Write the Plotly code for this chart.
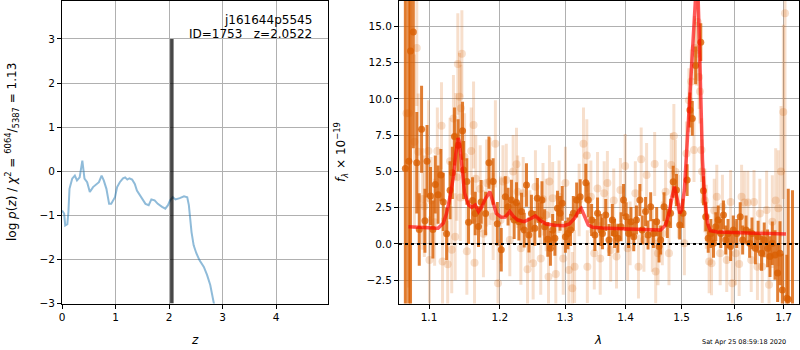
import plotly.graph_objects as go
import math

# ---------------- data ----------------
obj_name = "j161644p5545"
obj_id = 1753
z_best = 2.0522
chi2_num = 6064
chi2_den = 5387
chi2_red = 1.13
date_text = "Sat Apr 25 08:59:18 2020"

# p(z) curve
pz_z = [0.00, 0.04, 0.06, 0.10, 0.12, 0.14, 0.19, 0.24, 0.28, 0.33, 0.38, 0.42, 0.47, 0.52,
        0.58, 0.64, 0.69, 0.74, 0.78, 0.83, 0.88, 0.92, 0.99, 1.03, 1.08, 1.14, 1.18, 1.22,
        1.26, 1.31, 1.36, 1.40, 1.48, 1.56, 1.62, 1.67, 1.73, 1.79, 1.87, 1.93, 1.98, 2.02,
        2.07, 2.12, 2.20, 2.28, 2.34, 2.37, 2.42, 2.46, 2.51, 2.57, 2.65, 2.71, 2.77, 2.82,
        2.84, 2.90, 3.00, 4.97]
pz_logp = [-0.89, -0.96, -1.23, -1.20, -0.92, -0.40, -0.17, -0.10, -0.21, -0.14, 0.24, -0.17,
           -0.25, -0.47, -0.36, -0.29, -0.25, -0.10, -0.21, -0.40, -0.74, -0.74, -0.59, -0.36,
           -0.25, -0.16, -0.14, -0.19, -0.16, -0.19, -0.29, -0.44, -0.59, -0.74, -0.77, -0.64,
           -0.66, -0.74, -0.81, -0.85, -0.77, -0.66, -0.59, -0.64, -0.61, -0.57, -0.59, -0.77,
           -1.38, -1.68, -1.86, -2.02, -2.17, -2.35, -2.58, -2.88, -3.00, -3.40, -4.00, -8.00]
zline_y = [-3, 3]

# spectrum: fitted-orientation points (dark)
dark_lam = [1.0685, 1.0731, 1.0753, 1.0790, 1.0836, 1.0869, 1.0900, 1.0945, 1.0973, 1.1020,
            1.1052, 1.1085, 1.1123, 1.1161, 1.1194, 1.1240, 1.1288, 1.1320, 1.1349, 1.1400,
            1.1462, 1.1477, 1.1523, 1.1547, 1.1604, 1.1642, 1.1689, 1.1727, 1.1792, 1.1840,
            1.1901, 1.1962, 1.2020, 1.2080, 1.2121, 1.2171, 1.2212, 1.2247, 1.2283, 1.2323,
            1.2364, 1.2398, 1.2435, 1.2474, 1.2526, 1.2565, 1.2601, 1.2636, 1.2677, 1.2727,
            1.2768, 1.2803, 1.2838, 1.2879, 1.2920, 1.2955, 1.3005, 1.3045, 1.3087, 1.3132,
            1.3186, 1.3243, 1.3335, 1.3375, 1.3430, 1.3484, 1.3528, 1.3583, 1.3610, 1.3665,
            1.3720, 1.3776, 1.3814, 1.3870, 1.3924, 1.3967, 1.4011, 1.4054, 1.4095, 1.4143,
            1.4190, 1.4250, 1.4291, 1.4350, 1.4393, 1.4440, 1.4488, 1.4547, 1.4589, 1.4618,
            1.4679, 1.4738, 1.4797, 1.4845, 1.4904, 1.4964, 1.5025, 1.5101, 1.5153, 1.5197,
            1.5260, 1.5356, 1.5407, 1.5451, 1.5497, 1.5547, 1.5598, 1.5642, 1.5688, 1.5738,
            1.5790, 1.5834, 1.5879, 1.5929, 1.5981, 1.6048, 1.6118, 1.6166, 1.6234, 1.6305,
            1.6352, 1.6421, 1.6476, 1.6545, 1.6600, 1.6669, 1.6718, 1.6766, 1.6821, 1.6876,
            1.6925, 1.6973, 1.7067, 1.7097, 1.7186]
dark_flux = [5.20, 5.70, 13.30, 14.60, 5.60, 1.00, 7.90, 1.60, 5.70, 3.30,
             1.00, 4.10, 3.40, 4.75, 2.90, 0.70, 3.70, 4.90, 7.40, 6.80,
             7.80, 5.10, 4.30, 1.50, 3.00, 2.10, 1.20, 2.90, 2.10, 5.60,
             4.30, 1.40, -0.40, 3.26, 2.57, 3.03, 1.65, 2.85, 1.54, 2.23,
             0.96, 4.06, 0.62, 2.10, 1.08, 3.15, 1.65, 3.03, 1.19, 0.32,
             -0.30, 0.96, 0.39, 2.46, 2.11, 2.80, 0.50, 0.73, 0.96, 2.11,
             3.03, 3.26, 4.22, 3.03, 1.65, 0.62, 2.11, 0.96, 0.73, 2.00,
             0.28, 1.65, 0.73, 0.39, 1.19, 3.03, 1.88, 0.73, 1.54, 0.50,
             1.65, 3.03, 0.96, 2.23, 0.62, 2.57, 0.73, 1.54, -0.18, 0.28,
             2.57, 1.42, 2.11, 4.29, 3.72, 1.31, 2.11, 4.40, 9.23, 8.65,
             12.30, 13.90, 3.67, 1.88, 0.39, 0.73, 0.05, 1.19, 1.65, 0.73,
             2.00, 0.28, 0.73, -0.18, 0.96, 0.73, 1.88, 0.28, 0.96, 0.05,
             0.73, -0.30, 0.50, -0.64, 0.28, -0.30, -0.87, 0.05, -0.76, -2.00,
             -0.64, -3.17, -3.74, -3.80, -6.00]
dark_err = [25.0, 25.0, 25.0, 8.0, 3.5, 2.5, 3.0, 2.2, 2.5, 2.0,
            2.0, 2.0, 2.0, 1.8, 2.0, 1.8, 2.0, 1.8, 2.0, 1.8,
            2.0, 2.0, 1.6, 1.5, 1.6, 1.5, 1.4, 1.5, 1.5, 1.8,
            1.6, 1.5, 1.5, 1.4, 1.3, 1.4, 1.3, 1.4, 1.3, 1.3,
            1.2, 1.5, 1.2, 1.3, 1.2, 1.4, 1.2, 1.3, 1.2, 1.2,
            1.2, 1.1, 1.2, 1.2, 1.2, 1.2, 1.1, 1.1, 1.1, 1.2,
            1.2, 1.2, 1.3, 1.2, 1.1, 1.1, 1.1, 1.1, 1.1, 1.1,
            1.1, 1.1, 1.0, 1.0, 1.0, 1.1, 1.0, 1.0, 1.0, 1.0,
            1.0, 1.1, 1.0, 1.0, 1.0, 1.0, 1.0, 1.0, 1.1, 1.0,
            1.0, 1.0, 1.0, 1.1, 1.1, 1.0, 1.0, 1.1, 1.2, 1.2,
            1.3, 1.3, 1.0, 1.0, 1.0, 1.0, 1.0, 1.0, 1.0, 1.0,
            1.0, 1.0, 1.0, 1.0, 1.0, 1.0, 1.0, 1.0, 1.0, 1.0,
            1.1, 1.1, 1.1, 1.2, 1.2, 1.3, 1.4, 1.5, 1.7, 2.0,
            2.2, 2.5, 3.0, 7.6, 9.7]

# spectrum: other-orientation points (light)
light_lam = [1.0700, 1.0731, 1.0805, 1.0836, 1.0855, 1.0914, 1.0937, 1.0992, 1.1006, 1.1028,
             1.1076, 1.1113, 1.1170, 1.1184, 1.1255, 1.1288, 1.1311, 1.1335, 1.1359, 1.1368,
             1.1382, 1.1396, 1.1420, 1.1430, 1.1439, 1.1453, 1.1491, 1.1523, 1.1585, 1.1618,
             1.1632, 1.1650, 1.1713, 1.1760, 1.1806, 1.1854, 1.1901, 1.1934, 1.1972, 1.2010,
             1.2045, 1.2095, 1.2147, 1.2197, 1.2247, 1.2265, 1.2313, 1.2348, 1.2414, 1.2450,
             1.2500, 1.2535, 1.2617, 1.2652, 1.2701, 1.2738, 1.2753, 1.2803, 1.2853, 1.2904,
             1.2970, 1.3005, 1.3060, 1.3116, 1.3153, 1.3226, 1.3297, 1.3351, 1.3360, 1.3418,
             1.3474, 1.3528, 1.3573, 1.3639, 1.3693, 1.3748, 1.3800, 1.3847, 1.3913, 1.3995,
             1.4036, 1.4080, 1.4171, 1.4225, 1.4273, 1.4321, 1.4368, 1.4470, 1.4511, 1.4529,
             1.4570, 1.4648, 1.4707, 1.4768, 1.4809, 1.4857, 1.4886, 1.4940, 1.5050, 1.5088,
             1.5134, 1.5178, 1.5229, 1.5240, 1.5279, 1.5300, 1.5325, 1.5340, 1.5369, 1.5380,
             1.5432, 1.5460, 1.5515, 1.5560, 1.5612, 1.5661, 1.5726, 1.5770, 1.5853, 1.5929,
             1.5962, 1.6027, 1.6097, 1.6145, 1.6201, 1.6269, 1.6337, 1.6393, 1.6462, 1.6511,
             1.6560, 1.6649, 1.6698, 1.6766, 1.6835, 1.6890, 1.6946, 1.6994, 1.7029]
light_flux = [9.00, 9.00, 7.05, 13.50, 6.36, 3.10, 2.60, 6.40, -1.10, 3.00,
              1.50, 6.40, 8.15, -1.20, -1.40, 5.70, -0.40, 8.65, 0.50, 7.40,
              4.60, 12.40, 10.15, 3.20, 9.35, 13.10, 6.00, -0.50, 6.40, 8.20,
              -1.30, 4.50, 3.80, 0.70, 4.20, 4.30, 1.90, 6.90, -2.70, 1.65,
              4.30, 4.40, 0.28, 5.00, 5.50, 3.60, -0.30, 3.50, -1.74, 1.20,
              -1.33, 3.95, -1.00, 3.08, 2.00, -2.25, 4.30, 3.15, -2.07, 3.26,
              -1.00, 4.20, -1.80, -3.05, -1.56, 3.03, 6.90, 6.10, -1.56, 3.26,
              -0.64, 3.83, -1.00, 3.50, 4.20, -0.41, 3.00, -0.87, 3.72, 5.37,
              -0.30, 0.73, 3.50, -1.56, 5.83, 0.28, 4.75, 0.28, 5.51, -1.90,
              -0.64, 0.73, 3.60, -0.64, 5.44, 7.44, 4.98, 2.57, 0.05, 6.24,
              9.90, 11.20, 6.47, 13.50, 13.10, 15.30, 11.50, 10.50, 6.47, 5.00,
              3.00, 1.88, -1.20, -1.33, 2.30, 3.26, -0.64, 2.57, -1.10, 2.90,
              -2.70, -0.64, -1.38, 3.26, 2.85, 2.85, -1.10, 2.90, -1.56, 2.10,
              -1.56, 2.34, -2.80, 1.54, 3.00, 2.46, 5.00, 9.10, 15.90]
light_err = [20.0, 12.0, 6.0, 4.0, 4.0, 3.5, 3.5, 3.5, 3.0, 3.0,
             3.0, 3.0, 3.0, 3.0, 3.0, 3.0, 3.0, 3.0, 3.0, 3.0,
             3.0, 3.5, 3.0, 3.0, 3.0, 3.0, 3.0, 3.0, 3.0, 3.0,
             3.0, 3.0, 3.0, 3.0, 3.0, 3.0, 3.0, 3.0, 3.0, 3.0,
             2.5, 2.5, 2.5, 2.5, 2.5, 2.5, 2.5, 2.5, 2.5, 2.5,
             2.5, 2.5, 2.5, 2.5, 2.5, 2.5, 2.5, 2.5, 2.5, 2.5,
             2.5, 2.5, 2.5, 2.5, 2.5, 2.5, 2.5, 2.5, 2.5, 2.5,
             2.5, 2.5, 2.5, 2.2, 2.2, 2.2, 2.2, 2.2, 2.2, 2.2,
             2.2, 2.2, 2.2, 2.2, 2.2, 2.2, 2.2, 2.2, 2.2, 2.2,
             2.2, 2.2, 2.2, 2.2, 2.2, 2.2, 2.2, 2.2, 2.2, 2.2,
             2.2, 2.2, 2.2, 2.2, 2.2, 2.2, 2.2, 2.2, 2.2, 2.2,
             2.2, 2.2, 2.2, 2.2, 2.2, 2.2, 2.2, 2.2, 2.2, 2.2,
             2.2, 2.2, 2.2, 2.2, 2.2, 2.2, 2.2, 2.2, 2.3, 2.4,
             2.5, 2.7, 2.9, 3.2, 3.6, 4.0, 4.5, 6.0, 20.0]

# best-fit model
model_lam = [1.0726, 1.1123, 1.1194, 1.1240, 1.1288, 1.1335, 1.1368, 1.1400, 1.1420, 1.1453,
             1.1491, 1.1547, 1.1590, 1.1642, 1.1689, 1.1737, 1.1792, 1.1854, 1.1901, 1.1948,
             1.2020, 1.2080, 1.2147, 1.2197, 1.2265, 1.2364, 1.2474, 1.2535, 1.2601, 1.2701,
             1.2838, 1.2980, 1.3068, 1.3153, 1.3226, 1.3259, 1.3318, 1.3375, 1.3448, 1.3611,
             1.4054, 1.4618, 1.4707, 1.4768, 1.4826, 1.4866, 1.4923, 1.4964, 1.5000, 1.5050,
             1.5101, 1.5153, 1.5215, 1.5260, 1.5290, 1.5325, 1.5356, 1.5388, 1.5432, 1.5484,
             1.5535, 1.5675, 1.6269, 1.7049]
model_flux = [1.19, 1.08, 1.42, 2.11, 3.26, 4.64, 6.24, 7.30, 7.00, 5.30,
              3.50, 2.69, 2.53, 2.69, 2.23, 2.57, 3.15, 3.60, 2.80, 2.11,
              1.84, 1.86, 2.23, 1.93, 1.65, 1.54, 1.77, 1.93, 1.65, 1.38,
              1.29, 1.26, 1.38, 1.77, 2.34, 2.46, 1.88, 1.31, 1.15, 1.10,
              1.03, 0.96, 1.31, 2.11, 3.26, 3.95, 3.03, 2.11, 2.34, 3.72,
              6.93, 10.40, 13.80, 17.00, 19.00, 14.50, 9.90, 5.80, 3.00, 1.42,
              0.92, 0.83, 0.76, 0.69]

left_xticks = [0, 1, 2, 3, 4]
left_yticks = [-3, -2, -1, 0, 1, 2, 3]
right_xticks = [1.1, 1.2, 1.3, 1.4, 1.5, 1.6, 1.7]
right_yticks = [-2.5, 0.0, 2.5, 5.0, 7.5, 10.0, 12.5, 15.0]

# ---------------- figure ----------------
FONT = "DejaVu Sans"
W, H = 800, 350
DARK = "rgba(217,95,2,0.8)"
LIGHT = "rgba(217,95,2,0.2)"

fig = go.Figure()

fig.add_trace(go.Scatter(x=pz_z, y=pz_logp, mode="lines", xaxis="x", yaxis="y",
                         line=dict(color="rgba(31,119,180,0.5)", width=2), showlegend=False))
fig.add_trace(go.Scatter(x=[z_best, z_best], y=zline_y, mode="lines", xaxis="x", yaxis="y",
                         line=dict(color="rgba(0,0,0,0.72)", width=3.5), showlegend=False))

fig.add_trace(go.Scatter(x=light_lam, y=light_flux, mode="markers", xaxis="x2", yaxis="y2",
                         marker=dict(color=LIGHT, size=8, line=dict(width=0)),
                         error_y=dict(type="data", array=light_err, visible=True,
                                      color=LIGHT, thickness=3, width=0),
                         showlegend=False))
fig.add_trace(go.Scatter(x=dark_lam, y=dark_flux, mode="markers", xaxis="x2", yaxis="y2",
                         marker=dict(color=DARK, size=7, line=dict(width=0)),
                         error_y=dict(type="data", array=dark_err, visible=True,
                                      color=DARK, thickness=3, width=0),
                         showlegend=False))
fig.add_trace(go.Scatter(x=model_lam, y=model_flux, mode="lines", xaxis="x2", yaxis="y2",
                         line=dict(color="rgba(255,0,0,0.65)", width=3.5), showlegend=False))

fig.add_shape(type="line", xref="x2 domain", yref="y2", x0=0, x1=1, y0=0, y1=0,
              line=dict(color="black", width=2, dash="dot"), layer="above")

ydom = [1 - 303.5 / H, 1 - 1.0 / H]
tickfont = dict(family=FONT, size=10.5, color="black")
common = dict(showgrid=True, gridcolor="#b0b0b0", gridwidth=1, zeroline=False,
              showline=True, linecolor="black", linewidth=1, mirror=True,
              ticks="outside", ticklen=4, tickcolor="black", tickfont=tickfont)

fig.update_layout(
    width=W, height=H, margin=dict(l=0, r=0, t=0, b=0, pad=0, autoexpand=False),
    paper_bgcolor="white", plot_bgcolor="white", showlegend=False,
    font=dict(family=FONT, color="black"),
    xaxis=dict(domain=[62 / W, 328 / W], range=[0, 4.97], tickvals=left_xticks,
               anchor="y", **common),
    yaxis=dict(domain=ydom, range=[-3, 3.86], tickvals=left_yticks, anchor="x", **common),
    xaxis2=dict(domain=[399 / W, 799 / W], type="log",
                range=[math.log10(1.0602), math.log10(1.7324)],
                tickvals=right_xticks, ticktext=[f"{v:.1f}" for v in right_xticks],
                anchor="y2", **common),
    yaxis2=dict(domain=ydom, range=[-4.1, 16.74], tickvals=right_yticks,
                tickformat=".1f", anchor="x2", **common),
)

ann = []
ann.append(dict(text=obj_name, x=314 / W, y=1 - 20 / H, xanchor="right", yanchor="middle"))
ann.append(dict(text=f"ID={obj_id}   z={z_best:.4f}", x=314 / W, y=1 - 34.5 / H,
                xanchor="right", yanchor="middle"))
ann.append(dict(text="<i>z</i>", x=195 / W, y=1 - 340 / H, xanchor="center", yanchor="middle"))
ann.append(dict(text="<i>λ</i>", x=598 / W, y=1 - 340 / H, xanchor="center", yanchor="middle"))
ann.append(dict(text=f"log <i>p</i>(<i>z</i>) / <i>χ</i><sup>2</sup> = "
                     f"<sup>{chi2_num}</sup>/<sub>{chi2_den}</sub> = {chi2_red:.2f}",
                x=12 / W, y=1 - 152 / H, textangle=-90, xanchor="center", yanchor="middle"))
ann.append(dict(text="<i>f</i><sub><i>λ</i></sub> × 10<sup>−19</sup>",
                x=341 / W, y=1 - 152 / H, textangle=-90, xanchor="center", yanchor="middle"))
for a in ann:
    a.update(xref="paper", yref="paper", showarrow=False,
             font=dict(family=FONT, size=12, color="black"))
ann.append(dict(text=date_text, x=788 / W, y=1 - 342 / H, xref="paper", yref="paper",
                xanchor="right", yanchor="middle", showarrow=False,
                font=dict(family=FONT, size=6.5, color="black")))
fig.update_layout(annotations=ann)

page_css = ("var st=document.createElement('style');"
            "st.innerHTML='html,body{margin:0;padding:0;width:800px;height:350px;overflow:hidden}"
            ".plotly-graph-div{position:absolute;left:0;top:0}';"
            "document.head.appendChild(st);")
fig.write_html("out.html", config={"displayModeBar": False}, post_script=page_css)
